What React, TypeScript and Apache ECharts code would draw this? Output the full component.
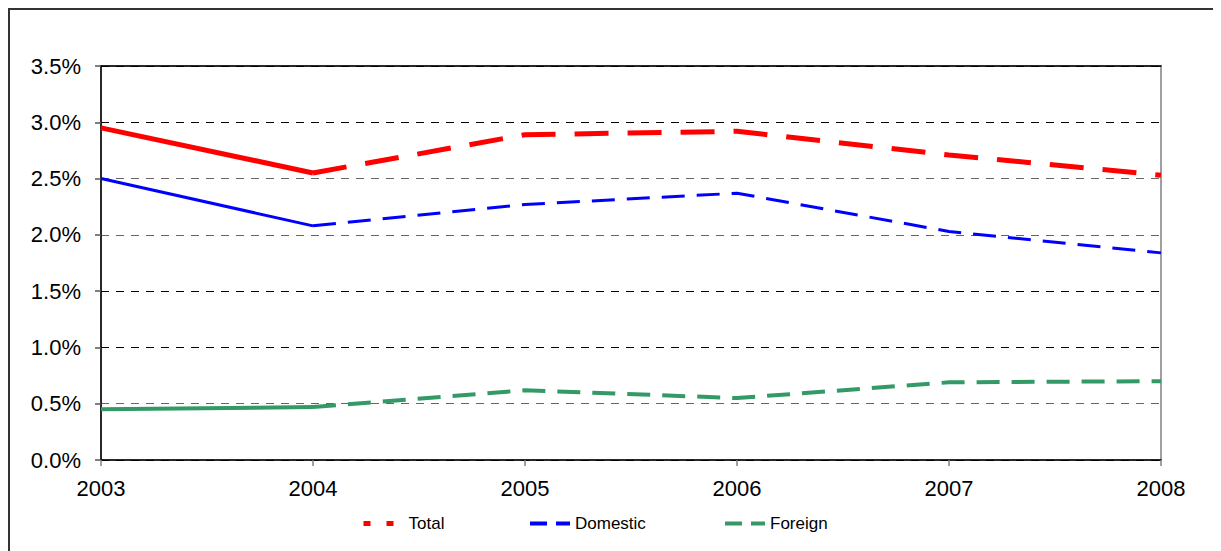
import React, { useEffect, useRef } from "react";
import * as echarts from "echarts";

const years = ["2003", "2004", "2005", "2006", "2007", "2008"];
const totalValues = [2.95, 2.55, 2.89, 2.92, 2.71, 2.53];
const domesticValues = [2.5, 2.08, 2.27, 2.37, 2.03, 1.84];
const foreignValues = [0.45, 0.47, 0.62, 0.55, 0.69, 0.7];
const yTicks = { min: 0, max: 3.5, interval: 0.5 };

const solidPart = (vals: number[]) => vals.map((v, i) => (i <= 1 ? v : null));
const dashedPart = (vals: number[]) => vals.map((v, i) => (i >= 1 ? v : null));

export default function App() {
  const ref = useRef<HTMLDivElement>(null);
  useEffect(() => {
    if (!ref.current) return;
    const chart = echarts.init(ref.current, null, { renderer: "svg" });
    const font = "Arial, 'Liberation Sans', sans-serif";
    const mk = (name: string, vals: number[], color: string, width: number, dash: number[]) => [
      {
        name: name + "_solid",
        type: "line",
        data: solidPart(vals),
        symbol: "none",
        lineStyle: { color, width, type: "solid" },
        itemStyle: { color },
        z: 3,
      },
      {
        name,
        type: "line",
        data: dashedPart(vals),
        symbol: "none",
        lineStyle: { color, width, type: dash },
        itemStyle: { color },
        z: 3,
      },
    ];
    const legendBase = (name: string, dash: number[], width: number, left: number) => ({
      left,
      top: 507,
      padding: 0,
      orient: "horizontal",
      itemWidth: 40,
      itemHeight: 14,
      textStyle: { fontFamily: font, fontSize: 17, color: "#000" },
      itemGap: 0,
      selectedMode: false,
      data: [{ name, lineStyle: { type: dash, width }, itemStyle: { opacity: 0 } }],
    });
    chart.setOption({
      animation: false,
      graphic: [
        {
          type: "rect",
          shape: { x: 1, y: 1, width: 1400, height: 800 },
          style: { fill: "none", stroke: "#333", lineWidth: 2 },
          silent: true,
        },
      ],
      grid: {
        left: 93,
        right: 60,
        top: 58,
        bottom: 91,
        show: true,
        borderColor: "#808080",
        borderWidth: 1.5,
      },
      legend: [
        legendBase("Total", [7, 16], 5, 353),
        legendBase("Domestic", [17, 9], 4, 520),
        legendBase("Foreign", [17, 9], 4, 715),
      ],
      xAxis: [
        {
          type: "category",
          data: years,
          boundaryGap: false,
          axisLine: { show: true, lineStyle: { color: "#000", width: 1.5 } },
          axisTick: { show: true, length: 6, lineStyle: { color: "#808080", width: 1.5 } },
          axisLabel: { color: "#000", fontSize: 22, fontFamily: font, margin: 17 },
          splitLine: { show: false },
        },
        {
          type: "category",
          data: years,
          position: "top",
          boundaryGap: false,
          axisLine: { show: true, lineStyle: { color: "#000", width: 1.5 } },
          axisTick: { show: false },
          axisLabel: { show: false },
          splitLine: { show: false },
        },
      ],
      yAxis: {
        type: "value",
        min: yTicks.min,
        max: yTicks.max,
        interval: yTicks.interval,
        axisLine: { show: true, lineStyle: { color: "#000", width: 1.5 } },
        axisTick: { show: true, length: 6, lineStyle: { color: "#555", width: 1.5 } },
        axisLabel: {
          color: "#000",
          fontSize: 22,
          fontFamily: font,
          margin: 20,
          formatter: (v: number) => v.toFixed(1) + "%",
        },
        splitLine: {
          show: true,
          lineStyle: {
            color: ["#000", "#666", "#000", "#000", "#666", "#666", "#000", "#000"],
            type: [8, 7],
            width: 1,
          },
        },
      },
      series: [
        ...mk("Total", totalValues, "#FF0000", 5, [34, 19]),
        ...mk("Domestic", domesticValues, "#0000FF", 3, [23, 12]),
        ...mk("Foreign", foreignValues, "#339966", 4, [23, 12]),
      ],
    });
    return () => chart.dispose();
  }, []);
  return <div ref={ref} style={{ width: 1213, height: 543 }} />;
}
